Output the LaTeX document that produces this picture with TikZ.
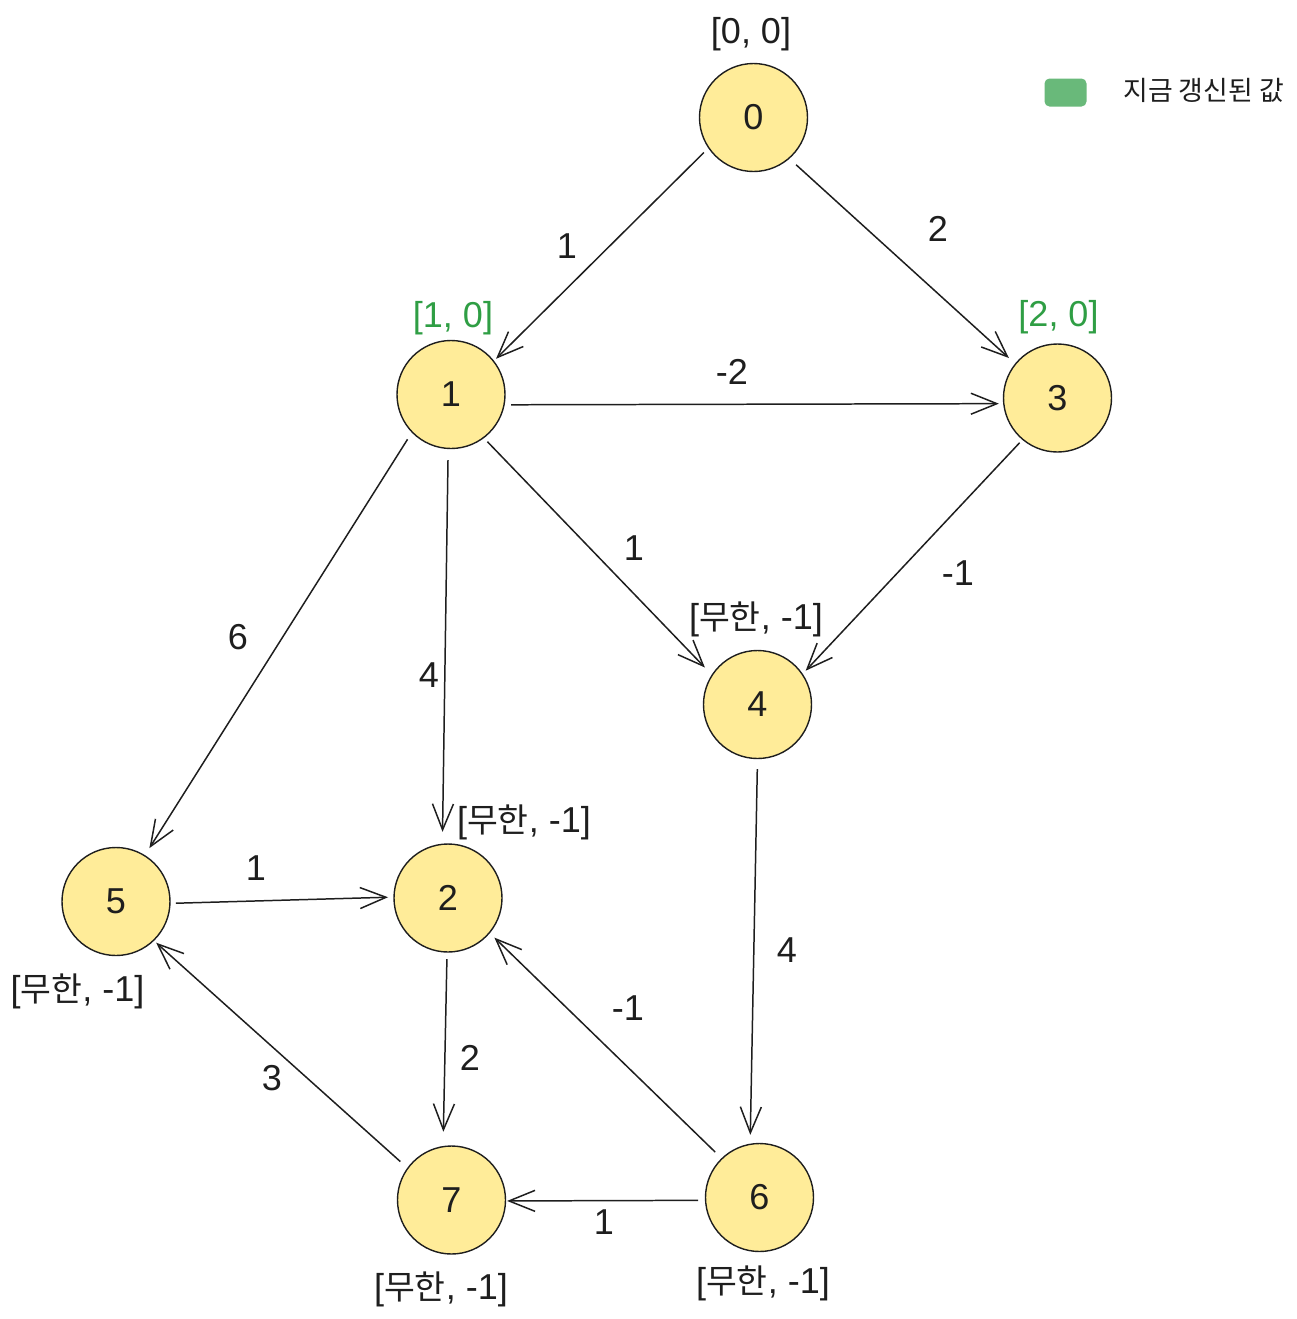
\documentclass[tikz,border=0pt]{standalone}
\usepackage{fontspec}
\setmainfont{Liberation Sans}
\newfontfamily\kr{Noto Sans CJK KR}
\newfontfamily\krs[Scale=0.93]{Noto Sans CJK KR}
\usetikzlibrary{arrows.meta}
\definecolor{nodefill}{RGB}{255,236,153}
\definecolor{ink}{RGB}{30,30,30}
\definecolor{newgreen}{RGB}{47,158,68}
\definecolor{legendgreen}{RGB}{105,185,122}
\tikzset{
  vertex/.style={circle, draw=ink, fill=nodefill, line width=0.8pt, minimum size=108*0.02cm, inner sep=0pt, outer sep=0pt, text=ink, font=\fontsize{20.5}{24}\selectfont},
  tag/.style={inner sep=0pt, text=ink, text height=15.4pt, text depth=4.3pt, font=\fontsize{20.5}{24}\selectfont},
  newtag/.style={tag, text=newgreen},
  wlab/.style={inner sep=0pt, text=ink, text height=14.7pt, text depth=0pt, font=\fontsize{20.5}{24}\selectfont},
  edge/.style={draw=ink, line width=0.85pt, -{Straight Barb[length=0.52cm, width=0.42cm, line width=0.85pt]}},
}
\begin{document}
\begin{tikzpicture}[x=0.02cm, y=-0.02cm]
\useasboundingbox (0,0) rectangle (1297,1319);
% nodes
\node[vertex] (n0) at (753.5,117.5) {0};
\node[vertex] (n1) at (451,394.5) {1};
\node[vertex] (n3) at (1057.5,398) {3};
\node[vertex] (n4) at (757.5,704.5) {4};
\node[vertex] (n5) at (116,901.5) {5};
\node[vertex] (n2) at (448,898) {2};
\node[vertex] (n7) at (451.5,1200) {7};
\node[vertex] (n6) at (759.5,1197.5) {6};
% distance tags
\node[tag] (t0) at (751,34) {[0, 0]};
\node[newtag] (t1) at (453,318) {[1, 0]};
\node[newtag] (t3) at (1058.5,317) {[2, 0]};
\node[tag] (t4) at (756,619.5) {[{\krs 무한}, -1]};
\node[tag] (t2) at (524,823) {[{\krs 무한}, -1]};
\node[tag] (t5) at (77.5,991.5) {[{\krs 무한}, -1]};
\node[tag] (t7) at (441,1290) {[{\krs 무한}, -1]};
\node[tag] (t6) at (763,1283.5) {[{\krs 무한}, -1]};
% edges
\draw[edge, shorten <=3.9pt, shorten >=2.0pt] (n0.214.3) -- (n1.38.7);
\draw[edge, shorten <=5.5pt, shorten >=5.1pt] (n0.311.8) -- (n3.141.8);
\draw[edge, shorten <=4.0pt, shorten >=2.8pt] (n1.349.1) -- (n3.186.8);
\draw[edge, shorten <=4.9pt, shorten >=5.1pt] (n1.224) -- (n5.58.3);
\draw[edge, shorten <=6.6pt, shorten >=7.1pt] (n1.267.4) -- (n2.96.9);
\draw[edge, shorten <=3.2pt, shorten >=6.0pt] (n1.307.2) -- (n4.147.7);
\draw[edge, shorten <=2.6pt, shorten >=2.8pt] (n3.230.2) -- (n4.34.6);
\draw[edge, shorten <=6.0pt, shorten >=5.4pt] (n4.270.4) -- (n6.100.4);
\draw[edge, shorten <=3.4pt, shorten >=3.4pt] (n5.358.5) -- (n2.179);
\draw[edge, shorten <=4.0pt, shorten >=8.5pt] (n2.269) -- (n7.99.6);
\draw[edge, shorten <=5.4pt, shorten >=4.0pt] (n6.134.4) -- (n2.320.3);
\draw[edge, shorten <=5.7pt, shorten >=2.0pt] (n7.144.8) -- (n5.314);
\draw[edge, shorten <=4.3pt, shorten >=0.9pt] (n6.183.3) -- (n7.359);
% edge weights
\node[wlab] (w01) at (567,246) {1};
\node[wlab] (w03) at (938,229) {2};
\node[wlab] (w13) at (732,372) {-2};
\node[wlab] (w15) at (238,637) {6};
\node[wlab] (w12) at (429,675) {4};
\node[wlab] (w14) at (634,548) {1};
\node[wlab] (w34) at (958,573) {-1};
\node[wlab] (w46) at (787,950) {4};
\node[wlab] (w52) at (256,868) {1};
\node[wlab] (w27) at (470,1058) {2};
\node[wlab] (w62) at (628,1008) {-1};
\node[wlab] (w75) at (272,1078) {3};
\node[wlab] (w67) at (604,1222) {1};
% legend
\node[fill=legendgreen, rounded corners=5*0.02cm, minimum width=42*0.02cm, minimum height=28*0.02cm, inner sep=0pt] (legbox) at (1065.5,92.5) {};
\node[anchor=west, inner sep=0pt, text=ink, text height=12.6pt, text depth=1.1pt, font=\kr\fontsize{15.3}{18}\selectfont] (legtext) at (1123,90) {지금 갱신된 값};
\end{tikzpicture}
\end{document}
